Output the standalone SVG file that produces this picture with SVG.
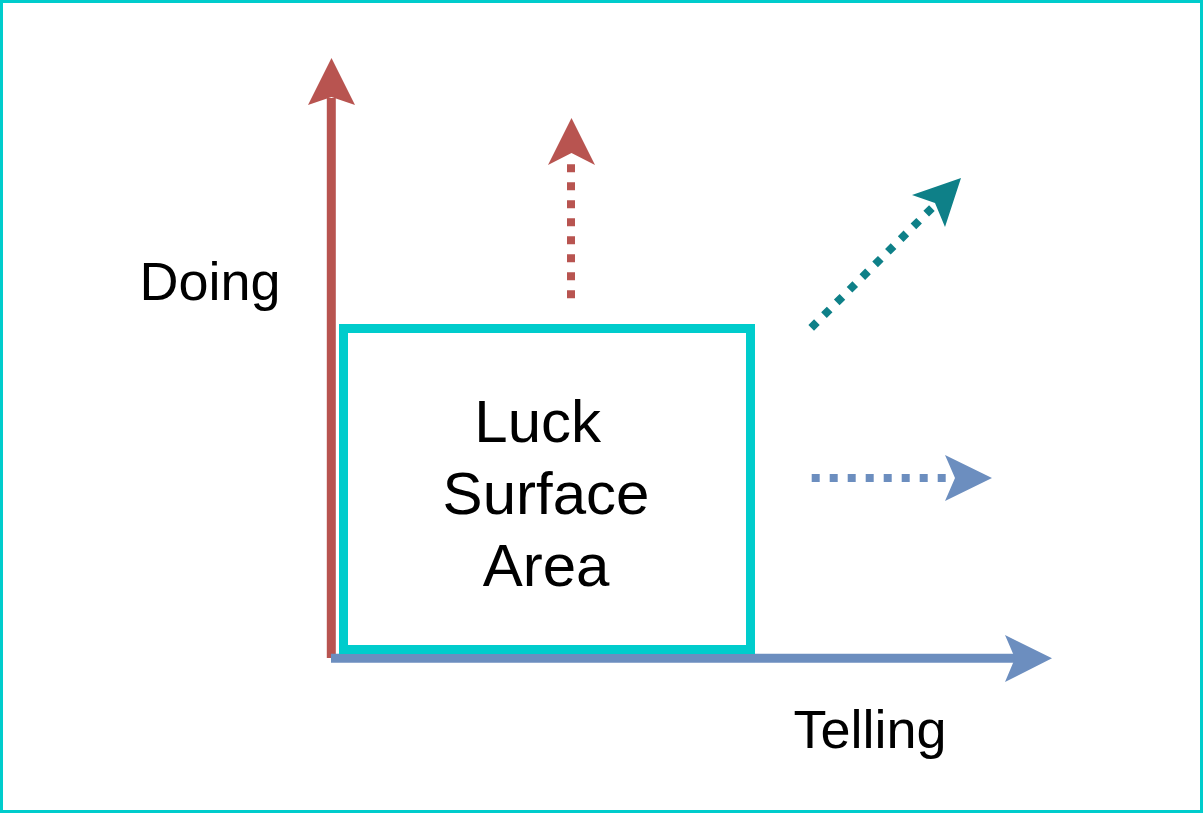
<svg xmlns="http://www.w3.org/2000/svg" width="1203" height="813" viewBox="0 0 1203 813">
<style>
.lbl{font-family:"Liberation Sans",Arial,sans-serif;fill:#000;text-anchor:middle}
.dot{fill:none;stroke-width:8;stroke-dasharray:8 10;stroke-linecap:butt}
</style>
<rect x="1.5" y="1.5" width="1200" height="810" fill="#ffffff" stroke="#00CCCC" stroke-width="3"/>
<g id="connectors">
  <g id="doing-axis">
    <line x1="331.3" y1="658" x2="331.3" y2="98" stroke="#B85450" stroke-width="9"/>
    <polygon points="331.5,58 355,105 331.5,97 308,105" fill="#B85450"/>
  </g>
  <g id="telling-axis">
    <line x1="331" y1="658.3" x2="1016" y2="658.3" stroke="#6C8EBF" stroke-width="9"/>
    <polygon points="1052,658.3 1005,682 1015,658.3 1005,635" fill="#6C8EBF"/>
  </g>
  <g id="up-arrow">
    <line class="dot" x1="571" y1="298.3" x2="571" y2="156" stroke="#B85450"/>
    <polygon points="571.5,118 595,165 571.5,153 548,165" fill="#B85450"/>
  </g>
  <g id="diag-arrow">
    <line class="dot" x1="811.2" y1="327.8" x2="936" y2="204" stroke="#0E8088"/>
    <polygon points="961,178 945,227 935,203 912,195" fill="#0E8088"/>
  </g>
  <g id="right-arrow">
    <line class="dot" x1="811.7" y1="478" x2="956" y2="478" stroke="#6C8EBF"/>
    <polygon points="992,478 945,501 955,478 945,455" fill="#6C8EBF"/>
  </g>
</g>
<g id="luck-box">
  <rect x="343.5" y="328.5" width="407" height="321" fill="none" stroke="#00CCCC" stroke-width="9"/>
  <text class="lbl" font-size="60" xml:space="preserve"><tspan x="546" y="442">Luck </tspan><tspan x="546" y="514">Surface</tspan><tspan x="546" y="586">Area</tspan></text>
</g>
<g id="doing-label"><text class="lbl" x="210" y="300" font-size="54">Doing</text></g>
<g id="telling-label"><text class="lbl" x="870" y="748" font-size="54">Telling</text></g>
</svg>
